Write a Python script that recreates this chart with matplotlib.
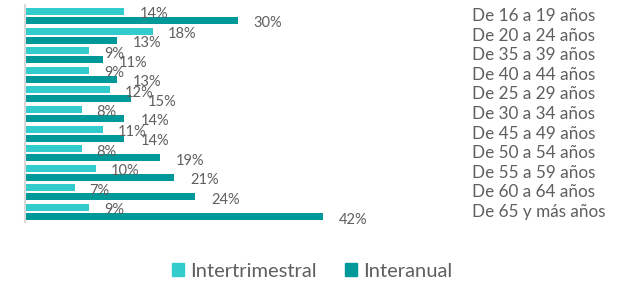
import matplotlib
matplotlib.use("Agg")
import matplotlib.pyplot as plt
from matplotlib.patches import Patch
from matplotlib.transforms import blended_transform_factory
import numpy as np

plt.rcParams['font.family'] = ['Lato', 'DejaVu Sans']

categorias = ["De 16 a 19 años", "De 20 a 24 años", "De 35 a 39 años", "De 40 a 44 años",
              "De 25 a 29 años", "De 30 a 34 años", "De 45 a 49 años", "De 50 a 54 años",
              "De 55 a 59 años", "De 60 a 64 años", "De 65 y más años"]
intertrimestral = [14, 18, 9, 9, 12, 8, 11, 8, 10, 7, 9]
interanual = [30, 13, 11, 13, 15, 14, 14, 19, 21, 24, 42]

c_light = "#33CCCC"
c_dark = "#009999"
c_text = "#5f5f5f"

W, H = 631, 283
fig = plt.figure(figsize=(W / 100, H / 100), dpi=100)
# axes in pixel terms: left 25, top 5, bottom 222, ~7.1 px per unit
ax = fig.add_axes([25 / W, (H - 222) / H, 424 / W, 217 / H])

y = np.arange(len(categorias))
h = 0.36
off = 0.23
ax.barh(y - off, intertrimestral, height=h, color=c_light)
ax.barh(y + off, interanual, height=h, color=c_dark)

tr = blended_transform_factory(fig.transFigure, ax.transData)
for i in range(len(categorias)):
    ax.annotate(f"{intertrimestral[i]}%", (intertrimestral[i], y[i] - off),
                xytext=(15, -3), textcoords="offset pixels", va="center", ha="left",
                fontsize=10.5, color=c_text)
    ax.annotate(f"{interanual[i]}%", (interanual[i], y[i] + off),
                xytext=(16, -3), textcoords="offset pixels", va="center", ha="left",
                fontsize=10.5, color=c_text)
    ax.text(472 / W, y[i], categorias[i], transform=tr,
            va="center", ha="left", fontsize=12.3, color=c_text)

ax.set_xlim(0, 59.8)
ax.set_ylim(10.51, -0.56)
for s in ["top", "right", "bottom"]:
    ax.spines[s].set_visible(False)
ax.spines["left"].set_color("#d9d9d9")
ax.spines["left"].set_linewidth(1.5)
ax.set_xticks([])
ax.set_yticks([])

handles = [Patch(color=c_light, label="Intertrimestral"), Patch(color=c_dark, label="Interanual")]
leg = fig.legend(handles=handles, loc="center", bbox_to_anchor=(0.495, 0.042), ncol=2,
                 frameon=False, fontsize=14.5, handlelength=0.6, handleheight=0.6,
                 handletextpad=0.3, columnspacing=1.4)
for t in leg.get_texts():
    t.set_color(c_text)

fig.savefig("out.png", dpi=100)
